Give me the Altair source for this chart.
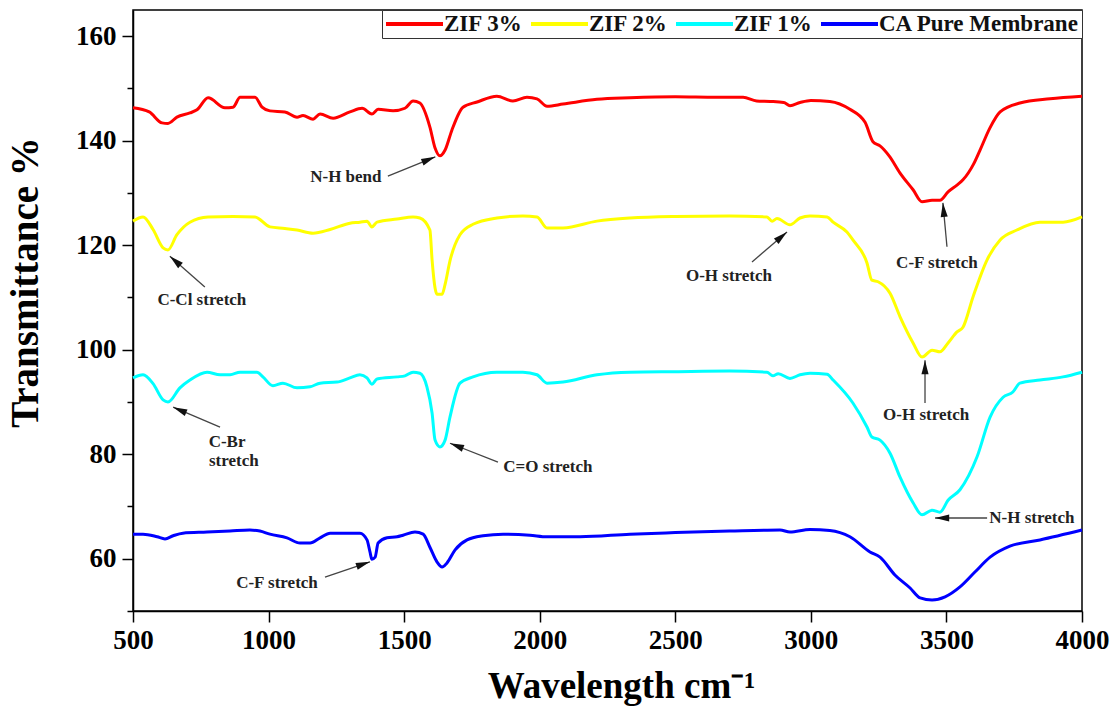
import math
import altair as alt
import pandas as pd

series_names = ["ZIF 3%", "ZIF 2%", "ZIF 1%", "CA Pure Membrane"]
series_colors = ["#ff0000", "#ffff00", "#00ffff", "#0000ff"]

zif3_x = [500, 560, 607, 629, 662, 710, 736, 777, 839, 869, 895, 950, 976, 1005, 1060, 1105, 1127, 1164, 1190, 1238,
          1300, 1345, 1381, 1404, 1459, 1503, 1533, 1558, 1595, 1614, 1632, 1651, 1676, 1717, 1769, 1842, 1901, 1953,
          1990, 2027, 2086, 2211, 2333, 2500, 2650, 2750, 2800, 2850, 2900, 2923, 2960, 3000, 3070, 3144, 3200, 3229,
          3255, 3290, 3329, 3377, 3410, 3447, 3476, 3506, 3539, 3561, 3600, 3624, 3661, 3698, 3771, 3882, 4000]
zif3_y = [146.3, 145.5, 143.4, 143.3, 144.5, 145.3, 145.9, 148.2, 146.3, 146.4, 148.3, 148.3, 146.4, 145.7, 145.5,
          144.5, 144.8, 144.1, 145.1, 144.3, 145.5, 146.2, 145.1, 146.0, 145.7, 146.2, 147.6, 147.2, 142.6, 138.6,
          137.1, 138.2, 142.0, 146.4, 147.4, 148.5, 147.6, 148.3, 148.0, 146.6, 147.0, 147.9, 148.2, 148.4, 148.3,
          148.3, 147.6, 147.5, 147.3, 146.7, 147.3, 147.7, 147.5, 146.0, 143.5, 139.8, 139.0, 137.0, 133.8, 130.6,
          128.3, 128.6, 128.6, 130.2, 131.5, 132.5, 135.5, 138.2, 142.5, 145.5, 147.2, 148.0, 148.5]

zif2_x = [500, 537, 574, 611, 629, 662, 710, 777, 869, 950, 1005, 1060, 1105, 1164, 1227, 1300, 1337, 1363, 1381,
          1400, 1474, 1533, 1558, 1595, 1603, 1614, 1621, 1640, 1651, 1669, 1706, 1754, 1842, 1938, 1990, 2027, 2086,
          2211, 2333, 2500, 2700, 2838, 2857, 2875, 2923, 2960, 2997, 3060, 3082, 3133, 3155, 3207, 3225, 3248, 3292,
          3329, 3377, 3410, 3447, 3476, 3506, 3539, 3561, 3598, 3650, 3698, 3760, 3845, 3930, 4000]
zif2_y = [124.6, 125.4, 123.0, 119.5, 119.1, 122.0, 124.4, 125.4, 125.5, 125.4, 123.5, 123.2, 122.9, 122.3, 123.0,
          124.2, 124.4, 124.6, 123.5, 124.4, 125.0, 125.4, 125.2, 122.9, 117.2, 111.8, 110.6, 110.6, 112.5, 117.0,
          122.0, 124.0, 125.2, 125.6, 125.4, 123.3, 123.3, 124.6, 125.2, 125.5, 125.6, 125.4, 124.6, 125.1, 123.9,
          125.2, 125.6, 125.4, 124.4, 122.5, 121.0, 116.6, 113.3, 113.0, 110.8, 106.3, 101.3, 98.6, 99.9, 99.6,
          101.3, 103.4, 104.3, 110.1, 117.2, 121.0, 122.9, 124.4, 124.4, 125.4]

zif1_x = [500, 537, 574, 611, 629, 673, 710, 773, 821, 858, 895, 957, 979, 1016, 1053, 1105, 1153, 1190, 1252, 1300,
          1337, 1363, 1381, 1400, 1474, 1503, 1533, 1558, 1584, 1603, 1614, 1632, 1651, 1669, 1706, 1754, 1842, 1938,
          1990, 2027, 2086, 2211, 2333, 2500, 2700, 2838, 2860, 2880, 2923, 2960, 2997, 3060, 3082, 3155, 3207, 3225,
          3255, 3292, 3329, 3377, 3410, 3447, 3476, 3506, 3550, 3613, 3661, 3709, 3745, 3771, 3845, 3930, 4000]
zif1_y = [94.6, 95.2, 93.5, 90.4, 90.0, 92.7, 94.2, 95.7, 95.2, 95.2, 95.7, 95.7, 94.8, 93.1, 93.6, 92.7, 92.9, 93.6,
          93.8, 94.6, 95.2, 94.6, 93.4, 94.4, 94.8, 95.0, 95.7, 95.5, 92.9, 87.9, 82.7, 81.4, 82.7, 87.1, 93.6, 94.8,
          95.7, 95.7, 95.2, 93.6, 93.8, 95.2, 95.7, 95.8, 95.9, 95.7, 95.0, 95.4, 94.5, 95.2, 95.5, 95.3, 94.2, 89.8,
          85.2, 83.3, 82.7, 80.2, 75.6, 70.7, 68.4, 69.3, 68.9, 71.2, 73.2, 79.5, 87.1, 90.9, 91.9, 93.6, 94.2, 94.8,
          95.7]

ca_x = [500, 537, 589, 618, 648, 684, 773, 858, 931, 968, 1005, 1068, 1116, 1153, 1190, 1227, 1289, 1337, 1363, 1374,
        1381, 1393, 1404, 1437, 1474, 1496, 1540, 1570, 1595, 1621, 1640, 1658, 1688, 1732, 1791, 1865, 1964, 2027,
        2149, 2333, 2500, 2700, 2886, 2923, 2997, 3070, 3144, 3218, 3255, 3310, 3366, 3403, 3447, 3495, 3550, 3606,
        3661, 3734, 3845, 4000]
ca_y = [64.7, 64.7, 64.2, 63.8, 64.4, 64.9, 65.1, 65.3, 65.5, 65.3, 64.7, 64.0, 63.0, 63.0, 64.0, 64.9, 64.9, 64.9,
        63.6, 61.3, 59.9, 60.3, 63.0, 64.0, 64.2, 64.5, 65.1, 64.7, 62.2, 59.4, 58.4, 59.2, 61.7, 63.6, 64.4, 64.7,
        64.5, 64.2, 64.2, 64.7, 65.0, 65.3, 65.5, 65.1, 65.6, 65.4, 64.2, 61.3, 60.3, 56.9, 54.4, 52.5, 52.1, 52.7,
        54.6, 57.5, 60.3, 62.4, 63.6, 65.5]

# annotation texts (label, wavenumber, transmittance)
note_text = ["N-H bend", "C-Cl stretch", "C-Br", "stretch", "C=O stretch", "C-F stretch",
             "O-H stretch", "C-F stretch", "O-H stretch", "N-H stretch"]
note_x = [1285, 754, 847, 872, 2030, 1031, 2698, 3465, 3425, 3815]
note_y = [133.0, 109.5, 82.3, 78.7, 77.6, 55.4, 114.1, 116.6, 87.5, 67.8]

# arrows: tail -> tip
arrow_x1 = [1440, 765, 821, 1846, 1208, 2783, 3502, 3421, 3650]
arrow_y1 = [133.2, 112.0, 85.2, 78.5, 56.5, 116.8, 119.7, 89.8, 67.8]
arrow_x2 = [1615, 636, 648, 1669, 1374, 2912, 3487, 3421, 3458]
arrow_y2 = [136.9, 117.9, 89.0, 82.1, 59.4, 122.5, 128.1, 98.0, 67.8]

X_DOMAIN = [500, 4000]
Y_DOMAIN = [50, 165]
W, H = 949, 601
FONT = "Liberation Serif"

rows = []
for name, xs, ys in [(series_names[0], zif3_x, zif3_y), (series_names[1], zif2_x, zif2_y),
                     (series_names[2], zif1_x, zif1_y), (series_names[3], ca_x, ca_y)]:
    for i, (x, y) in enumerate(zip(xs, ys)):
        rows.append({"series": name, "wn": x, "t": y, "i": i})
df = pd.DataFrame(rows)

kx = W / (X_DOMAIN[1] - X_DOMAIN[0])
ky = H / (Y_DOMAIN[1] - Y_DOMAIN[0])
HEAD_SIZE = 200
half = math.sqrt(HEAD_SIZE) / 2
arows = []
for x1, y1, x2, y2 in zip(arrow_x1, arrow_y1, arrow_x2, arrow_y2):
    dx = (x2 - x1) * kx
    dy = (y2 - y1) * ky
    L = math.hypot(dx, dy)
    ux, uy = dx / L, dy / L
    ang = math.degrees(math.atan2(dx, dy)) % 360
    hx = x2 - ux * half / kx
    hy = y2 - uy * half / ky
    arows.append({"wn": x1, "t": y1, "wn2": x2, "t2": y2, "hx": hx, "hy": hy, "ang": ang})
adf = pd.DataFrame(arows)
ndf = pd.DataFrame({"label": note_text, "wn": note_x, "t": note_y})

xscale = alt.Scale(domain=X_DOMAIN, nice=False, zero=False)
yscale = alt.Scale(domain=Y_DOMAIN, nice=False, zero=False)

x_axis = alt.Axis(
    values=list(range(500, 4001, 500)), title="Wavelength cm⁻¹", grid=False, format="d",
    labelFont=FONT, labelFontWeight="bold", labelFontSize=27, labelColor="black", labelPadding=5,
    labelFlush=False, labelOverlap=False,
    tickSize=11, tickColor="black", tickWidth=1.5, domainColor="black", domainWidth=1.5,
    titleFont=FONT, titleFontWeight="bold", titleFontSize=37, titleColor="black",
    titleX=488, titleY=86, titleBaseline="alphabetic",
)
y_axis = alt.Axis(
    values=list(range(50, 161, 10)), title="Transmittance %", grid=False, format="d",
    labelExpr="datum.value % 20 === 0 ? datum.label : ''",
    labelFont=FONT, labelFontWeight="bold", labelFontSize=27, labelColor="black", labelPadding=6,
    labelOverlap=False,
    tickSize={"condition": {"test": "datum.value % 20 !== 0", "value": 6}, "value": 11},
    tickColor="black", tickWidth=1.5, domainColor="black", domainWidth=1.5,
    titleFont=FONT, titleFontWeight="bold", titleFontSize=39, titleColor="black",
    titleX=-88, titleY=272,
)

legend = alt.Legend(
    title=None, orient="top-right", offset=0, direction="horizontal", columns=4,
    symbolType="M-1,0L4.7,0", symbolSize=400, symbolStrokeWidth=4,
    labelFont=FONT, labelFontWeight="bold", labelFontSize=23, labelColor="#111",
    labelOffset=36, labelLimit=400, columnPadding=0, padding=2,
    strokeColor="#333", fillColor="white",
)

lines = alt.Chart(df).mark_line(strokeWidth=3, interpolate="monotone").encode(
    x=alt.X("wn:Q", scale=xscale, axis=x_axis),
    y=alt.Y("t:Q", scale=yscale, axis=y_axis),
    color=alt.Color("series:N", scale=alt.Scale(domain=series_names, range=series_colors), legend=legend),
    order="i:Q",
)

rules = alt.Chart(adf).mark_rule(color="#444", strokeWidth=1.3).encode(
    x=alt.X("wn:Q", scale=xscale, axis=x_axis),
    y=alt.Y("t:Q", scale=yscale, axis=y_axis),
    x2="wn2:Q", y2="t2:Q",
)

heads = alt.Chart(adf).mark_point(
    shape="M0,-1L0.5,1L-0.5,1Z", filled=True, color="#111", size=HEAD_SIZE, opacity=1
).encode(
    x=alt.X("hx:Q", scale=xscale, axis=x_axis),
    y=alt.Y("hy:Q", scale=yscale, axis=y_axis),
    angle=alt.Angle("ang:Q", scale=None),
)

texts = alt.Chart(ndf).mark_text(
    font=FONT, fontWeight="bold", fontSize=17, color="#222", baseline="middle", align="center"
).encode(
    x=alt.X("wn:Q", scale=xscale, axis=x_axis),
    y=alt.Y("t:Q", scale=yscale, axis=y_axis),
    text="label:N",
)

chart = alt.layer(lines, rules, heads, texts).properties(
    width=W, height=H,
    padding={"left": 133, "top": 10, "right": 30, "bottom": 97},
    autosize=alt.AutoSizeParams(type="none"),
    background="white",
).configure_view(stroke="black", strokeWidth=1.5)

chart.save("out.html", embed_options={"renderer": "svg", "actions": False})
